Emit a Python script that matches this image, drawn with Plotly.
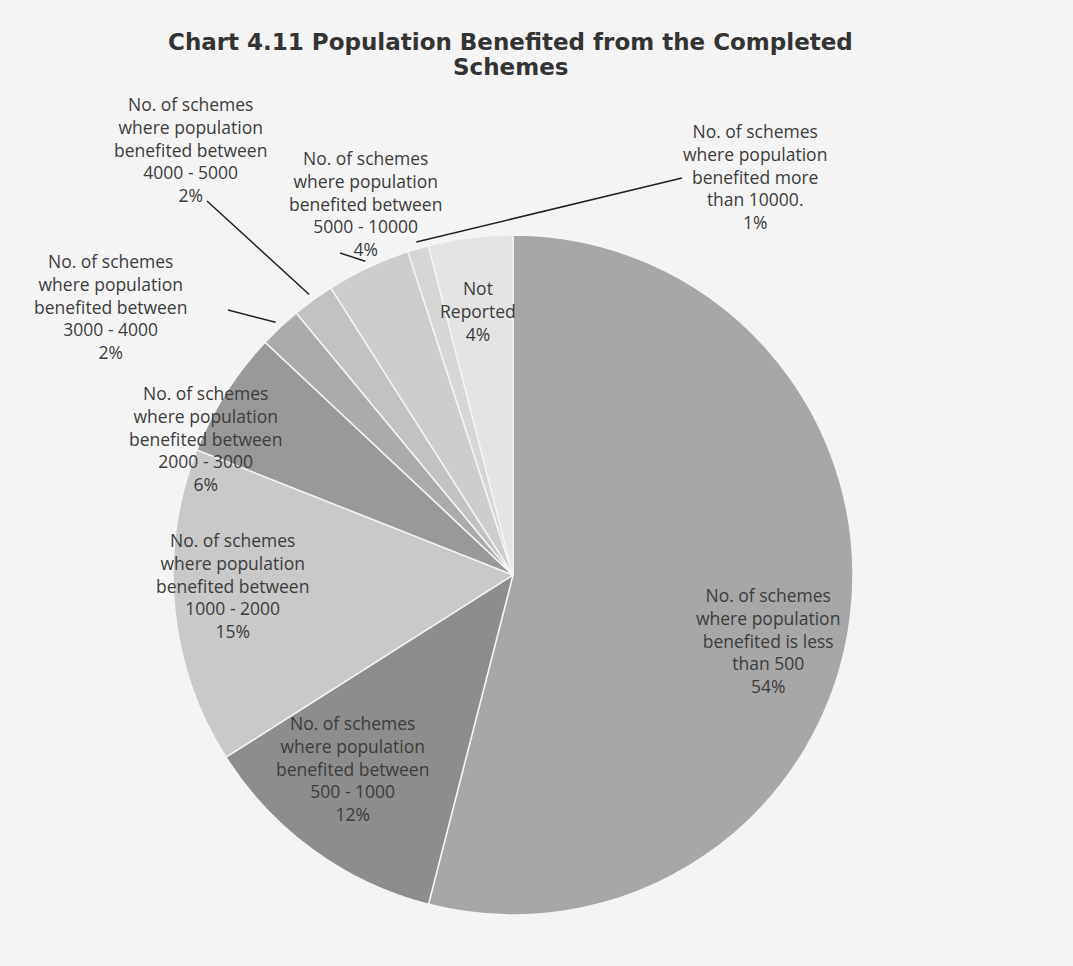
import math
import plotly.graph_objects as go

# ---- data ----
categories = [
    "No. of schemes where population benefited is less than 500",
    "No. of schemes where population benefited between 500 - 1000",
    "No. of schemes where population benefited between 1000 - 2000",
    "No. of schemes where population benefited between 2000 - 3000",
    "No. of schemes where population benefited between 3000 - 4000",
    "No. of schemes where population benefited between 4000 - 5000",
    "No. of schemes where population benefited between 5000 - 10000",
    "No. of schemes where population benefited more than 10000.",
    "Not Reported",
]
label_lines = [
    ["No. of schemes", "where population", "benefited is less", "than 500"],
    ["No. of schemes", "where population", "benefited between", "500 - 1000"],
    ["No. of schemes", "where population", "benefited between", "1000 - 2000"],
    ["No. of schemes", "where population", "benefited between", "2000 - 3000"],
    ["No. of schemes", "where population", "benefited between", "3000 - 4000"],
    ["No. of schemes", "where population", "benefited between", "4000 - 5000"],
    ["No. of schemes", "where population", "benefited between", "5000 - 10000"],
    ["No. of schemes", "where population", "benefited more", "than 10000."],
    ["Not", "Reported"],
]
percentages = [54, 12, 15, 6, 2, 2, 4, 1, 4]
title_lines = ["Chart 4.11 Population Benefited from the Completed", "Schemes"]
colors = ["#a7a7a7", "#8d8d8d", "#c9c9c9", "#999999", "#ababab",
          "#c2c2c2", "#cdcdcd", "#d6d6d6", "#e4e4e4"]

# ---- layout geometry (pixels) ----
W, H = 1073, 966
CX, CY, R = 513, 575, 340

def px(x):
    return x / W

def py(y):
    return 1 - y / H

# label block centres (pixels)
label_pos = [
    (768, 640),
    (352, 768),
    (232, 585),
    (205, 438),
    (110, 307),
    (190, 150),
    (365, 203),
    (755, 176),
    (478, 311),
]
# label-side anchor of leader lines (pixels)
leader_start = {4: (228, 310), 5: (207, 201), 6: (340, 253), 7: (682, 178)}

fig = go.Figure(go.Pie(
    labels=categories,
    values=percentages,
    sort=False,
    direction="clockwise",
    rotation=0,
    marker=dict(colors=colors, line=dict(color="#f4f4f4", width=1.5)),
    textinfo="none",
    hoverinfo="label+percent",
    showlegend=False,
    domain=dict(x=[px(CX - R), px(CX + R)], y=[py(CY + R), py(CY - R)]),
))

annotations = []
for j, (t, ty) in enumerate(zip(title_lines, [42, 67])):
    annotations.append(dict(
        text=f"<b>{t}</b>", x=px(510), y=py(ty), xref="paper", yref="paper",
        showarrow=False, xanchor="center", yanchor="middle",
        font=dict(family="DejaVu Sans", size=23, color="#333333"),
    ))
shapes = []

total = sum(percentages)
cum = 0.0
for i, (lines, pct) in enumerate(zip(label_lines, percentages)):
    mid = (cum + pct / 2) / total * 2 * math.pi
    cum += pct
    lx, ly = label_pos[i]
    text = "<br>".join(lines + [f"{pct}%"])
    annotations.append(dict(
        text=text, x=px(lx), y=py(ly), xref="paper", yref="paper",
        showarrow=False, xanchor="center", yanchor="middle",
        font=dict(family="Open Sans", size=17.5, color="#3c3c3c"),
    ))
    if i in leader_start:
        ex = CX + 1.02 * R * math.sin(mid)
        ey = CY - 1.02 * R * math.cos(mid)
        sx, sy = leader_start[i]
        shapes.append(dict(type="line", xref="paper", yref="paper",
                           x0=px(sx), y0=py(sy), x1=px(ex), y1=py(ey),
                           line=dict(color="#222222", width=1.5)))

fig.update_layout(
    width=W, height=H,
    margin=dict(l=0, r=0, t=0, b=0),
    paper_bgcolor="#f4f4f4",
    plot_bgcolor="#f4f4f4",
    annotations=annotations,
    shapes=shapes,
)

fig.write_html("out.html")
